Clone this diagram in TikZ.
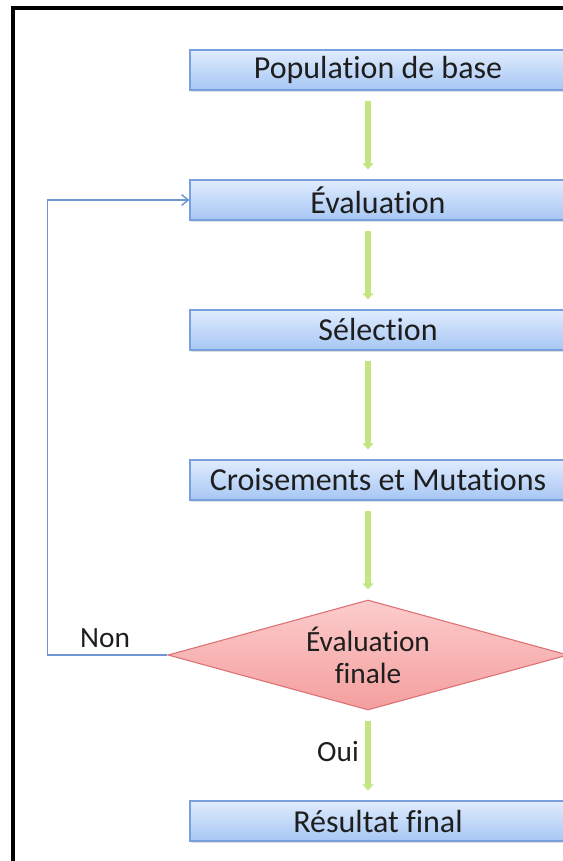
\documentclass[tikz,border=0pt]{standalone}
\usepackage{fontspec}
\setmainfont{Carlito}[Ligatures=NoCommon]
\usetikzlibrary{shapes.geometric,arrows.meta,shadows}

\definecolor{boxtop}{RGB}{224,236,253}
\definecolor{boxbot}{RGB}{166,198,244}
\definecolor{boxedge}{RGB}{120,160,222}
\definecolor{diatop}{RGB}{252,204,204}
\definecolor{diabot}{RGB}{244,158,158}
\definecolor{diaedge}{RGB}{222,112,112}
\definecolor{flowgreen}{RGB}{196,230,128}
\definecolor{loopblue}{RGB}{110,150,212}
\definecolor{inkgrey}{RGB}{30,30,30}

\tikzset{
	stepbox/.style={rectangle, draw=boxedge, line width=0.8pt, top color=boxtop, bottom color=boxbot,
		minimum width=282pt, minimum height=30pt, inner sep=0pt, text=inkgrey,
		font=\fontsize{24}{28}\selectfont,
		drop shadow={shadow xshift=1pt, shadow yshift=-1.5pt, opacity=0.25, fill=gray}},
	testdia/.style={diamond, draw=diaedge, line width=0.8pt, top color=diatop, bottom color=diabot,
		aspect=3.6, inner sep=0pt, minimum width=300pt, minimum height=82.5pt, text=inkgrey,
		align=center, font=\fontsize{22}{24}\selectfont},
	flow/.style={draw=flowgreen, line width=4.5pt, -{Triangle[length=4.5pt, width=8pt]},
		shorten <=7.5pt, shorten >=7.5pt},
	loopback/.style={draw=loopblue, line width=1.1pt, -{Straight Barb[length=5pt, width=8pt]}},
	answer/.style={text=inkgrey, inner sep=0pt, font=\fontsize{22}{24}\selectfont}
}

\begin{document}
\begin{tikzpicture}[x=0.75pt,y=0.75pt,yscale=-1,xscale=1]
	\useasboundingbox (0,0) rectangle (563,861);
	\clip (0,0) rectangle (563,861);

	%Frame
	\draw [line width=2.4pt]  (13,880) -- (13,8) -- (580,8) ;

	% Text Node
	\node [stepbox] (pop) at (378,70) {Population de base};
	% Text Node
	\node [stepbox] (eval) at (378,200) {Évaluation};
	% Text Node
	\node [stepbox] (sel) at (378,330) {Sélection};
	% Text Node
	\node [stepbox] (cross) at (378,480) {Croisements et Mutations};
	% Text Node
	\node [testdia] (dia) at (368,655) {Évaluation\\finale};
	% Text Node
	\node [stepbox] (res) at (378,821) {Résultat final};
	% Text Node
	\node [answer] (non) at (105,638) {Non};
	% Text Node
	\node [answer] (oui) at (338,752) {Oui};

	% Connection
	\draw [flow]  (pop.south -| dia.north) -- (eval.north -| dia.north) ;
	% Connection
	\draw [flow]  (eval.south -| dia.north) -- (sel.north -| dia.north) ;
	% Connection
	\draw [flow]  (sel.south -| dia.north) -- (cross.north -| dia.north) ;
	% Connection
	\draw [flow]  (cross.south -| dia.north) -- (dia.north) ;
	% Connection
	\draw [flow]  (dia.south) -- (res.north -| dia.south) ;
	% Connection
	\draw [loopback]  (dia.west) -- ++(-120,0) |- (eval.west) ;

\end{tikzpicture}
\end{document}
